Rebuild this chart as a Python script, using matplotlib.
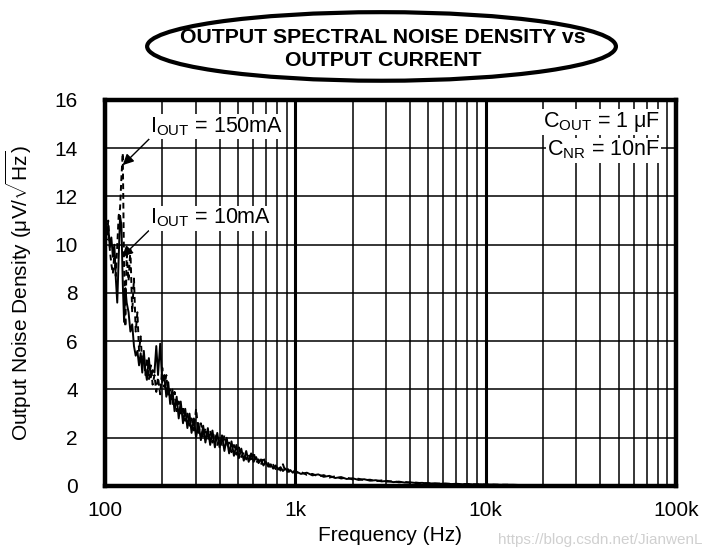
import matplotlib.pyplot as plt
from matplotlib.patches import Ellipse
from matplotlib.ticker import LogLocator, NullFormatter

plt.rcParams['font.family'] = ['Liberation Sans', 'DejaVu Sans']
plt.rcParams['mathtext.fontset'] = 'custom'
plt.rcParams['mathtext.rm'] = 'Liberation Sans'
plt.rcParams['mathtext.it'] = 'Liberation Sans:italic'

# frequency grid (Hz), shared by both traces
freq = [100, 102, 104, 106, 108, 110, 112, 114, 116, 118, 120, 122, 124, 126, 128, 130,
        133, 136, 139, 142, 145, 148, 151, 154, 157, 160, 163, 166, 170, 174, 178, 182,
        186, 190, 195, 200,
        205, 210, 215, 220, 226, 232, 238, 244, 250, 257, 264, 271, 278, 285, 293, 301,
        310, 319, 328, 337, 347, 357, 367, 378, 389, 400, 412, 424, 436, 449, 462, 476,
        490, 505, 520, 536, 552, 569, 586, 604, 622, 641, 660, 680, 700, 721, 743, 765,
        788, 812, 836, 861, 887, 914, 941, 970,
        1000, 1070, 1150, 1230, 1320, 1410, 1510, 1620, 1740, 1860, 2000, 2150, 2300,
        2470, 2650, 2840, 3050, 3270, 3500, 3760, 4030, 4320, 4640, 4980, 5340, 5730,
        6150, 6600, 7080, 7600, 8150, 8750, 9400, 10000, 11000, 12000, 13000, 14000, 15000]

# IOUT = 10mA (solid), uV/rtHz
noise_10ma = [11.4, 10.4, 10.8, 9.9, 10.3, 9.5, 10.0, 8.6, 7.6, 9.4, 11.2, 10.8, 8.4, 6.8,
              8.2, 7.6, 7.2, 6.4, 6.7, 5.8, 5.4, 5.6, 5.0, 5.5, 4.7, 5.6,
              4.8, 4.4, 5.3, 4.5, 4.8, 4.7, 5.8, 4.6, 5.9, 4.3,
              4.6, 3.7, 4.3, 3.4, 4.0, 3.1, 3.7, 2.8, 3.5,
              2.6, 3.2, 2.4, 3.0, 2.2, 2.8, 2.0, 2.6, 1.9, 2.5,
              1.8, 2.4, 1.7, 2.3, 1.6, 2.2, 1.6, 2.1, 1.45, 2.0,
              1.35, 1.85, 1.25, 1.7, 1.15, 1.55, 1.05, 1.45, 1.0, 1.35,
              1.0, 1.2, 0.95, 1.1, 0.85, 1.0, 0.8, 0.9, 0.72, 0.85,
              0.68, 0.78, 0.62, 0.72, 0.58, 0.66, 0.55,
              0.62, 0.5, 0.55, 0.44, 0.48, 0.38, 0.42, 0.33, 0.37, 0.29,
              0.32, 0.25, 0.28, 0.22, 0.24, 0.19, 0.21, 0.16, 0.18, 0.14,
              0.15, 0.12, 0.13, 0.1, 0.11, 0.09, 0.1, 0.08, 0.09, 0.07,
              0.08, 0.06, 0.07, 0.06, 0.06, 0.05, 0.05, 0.05, 0.04]

# IOUT = 150mA (dashed)
noise_150ma = [10.8, 10.2, 11.0, 9.8, 9.2, 8.8, 9.6, 8.7, 10.0, 11.2, 11.5, 12.8, 13.8, 9.0,
               6.6, 9.6, 8.5, 9.8, 7.2, 8.6, 6.4, 7.2, 5.6, 6.2, 5.0, 5.4,
               4.6, 5.3, 4.4, 5.0, 4.2, 4.6, 3.9, 4.5, 3.8, 4.9,
               4.1, 4.6, 3.7, 4.0, 3.4, 3.9, 3.1, 3.5, 2.9,
               3.3, 2.7, 3.0, 2.5, 2.8, 2.3, 3.2, 2.2, 2.6, 2.0,
               2.4, 1.9, 2.3, 1.8, 2.1, 1.7, 2.0, 1.7, 2.1, 1.6,
               1.8, 1.4, 1.7, 1.3, 1.6, 1.2, 1.4, 1.1, 1.3, 1.0,
               1.4, 0.95, 1.1, 0.88, 1.2, 0.85, 0.95, 0.75, 0.88, 0.7,
               0.8, 0.64, 0.9, 0.6, 0.7, 0.56, 0.64,
               0.54, 0.58, 0.46, 0.5, 0.4, 0.45, 0.35, 0.4, 0.31, 0.35,
               0.27, 0.3, 0.24, 0.26, 0.2, 0.23, 0.18, 0.2, 0.15, 0.17,
               0.13, 0.14, 0.11, 0.12, 0.1, 0.1, 0.09, 0.09, 0.08, 0.08,
               0.07, 0.07, 0.06, 0.06, 0.05, 0.05, 0.05, 0.04, 0.04]

x_ticks = [100, 1000, 10000, 100000]
x_labels = ['100', '1k', '10k', '100k']
y_ticks = [0, 2, 4, 6, 8, 10, 12, 14, 16]

fig = plt.figure(figsize=(7.06, 5.53), dpi=100)
ax = fig.add_axes([0.1487, 0.1212, 0.8088, 0.698])

ax.plot(freq, noise_10ma, color='black', lw=1.4, zorder=3)
ax.plot(freq, noise_150ma, color='black', lw=1.4, ls=(0, (3, 2)), zorder=3)

ax.set_xscale('log')
ax.set_xlim(100, 100000)
ax.set_ylim(0, 16)
ax.set_xticks(x_ticks)
ax.set_xticklabels(x_labels)
ax.xaxis.set_minor_locator(LogLocator(base=10, subs=range(2, 10)))
ax.xaxis.set_minor_formatter(NullFormatter())
ax.set_yticks(y_ticks)

ax.grid(True, which='major', axis='x', color='black', lw=2.2)
ax.grid(True, which='minor', axis='x', color='black', lw=1.1)
ax.grid(True, which='major', axis='y', color='black', lw=1.1)
ax.tick_params(which='both', length=0, labelsize=15)
ax.tick_params(axis='x', pad=11)
ax.tick_params(axis='y', pad=19.5)
for s in ax.spines.values():
    s.set_linewidth(3.2)
    s.set_zorder(5)

ax.set_xlabel('Frequency (Hz)', fontsize=15, labelpad=4)
ax.set_ylabel(r'Output Noise Density (μV/$\sqrt{\mathrm{Hz}}$)', fontsize=15, labelpad=15)

box = dict(facecolor='white', edgecolor='none', pad=1)
arrow = dict(arrowstyle='-|>', color='black', lw=1.0, mutation_scale=16,
             shrinkA=0, shrinkB=0, relpos=(0.03, 0.15))
ax.annotate(r'I$_{\mathrm{OUT}}$ = 150mA', xy=(124, 13.3), xytext=(172, 14.9),
            fontsize=15.5, ha='left', va='center', bbox=box, zorder=4, arrowprops=arrow)
ax.annotate(r'I$_{\mathrm{OUT}}$ = 10mA', xy=(123, 9.5), xytext=(172, 11.1),
            fontsize=15.5, ha='left', va='center', bbox=box, zorder=4, arrowprops=arrow)
ax.text(0.972, 0.943, r'C$_{\mathrm{OUT}}$ = 1 μF', transform=ax.transAxes,
        fontsize=15.5, ha='right', va='center', bbox=box, zorder=4)
ax.text(0.972, 0.870, r'C$_{\mathrm{NR}}$ = 10nF', transform=ax.transAxes,
        fontsize=15.5, ha='right', va='center', bbox=box, zorder=4)

fig.patches.append(Ellipse((0.5404, 0.916), 0.664, 0.124, transform=fig.transFigure,
                           facecolor='white', edgecolor='black', lw=3))
fig.text(0.5425, 0.933, 'OUTPUT SPECTRAL NOISE DENSITY vs', ha='center', va='center',
         fontsize=15.3, fontweight='bold')
fig.text(0.5425, 0.8915, 'OUTPUT CURRENT', ha='center', va='center',
         fontsize=15.3, fontweight='bold')
fig.text(0.995, 0.024, 'https://blog.csdn.net/JianwenL', ha='right', va='center',
         fontsize=11, color='#d0d0d0')

fig.savefig('out.png', dpi=100)
